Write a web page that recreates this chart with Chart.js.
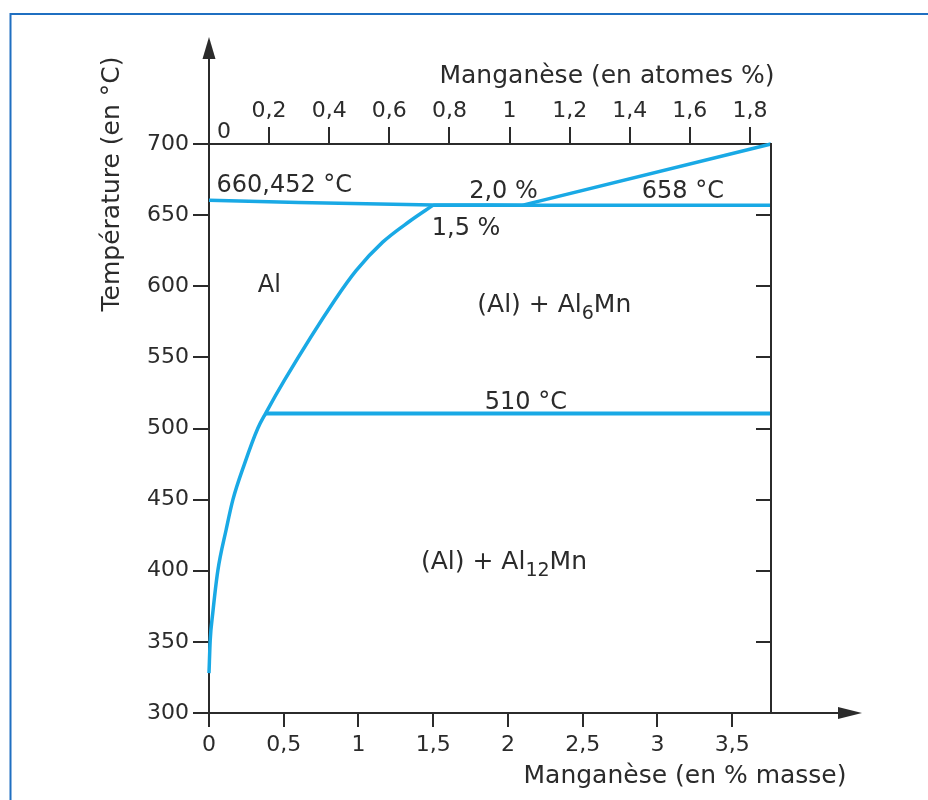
<!DOCTYPE html>
<html>
<head>
<meta charset="utf-8">
<script src="https://cdn.jsdelivr.net/npm/chart.js@4.4.1/dist/chart.umd.min.js"></script>
<style>
  html, body { margin: 0; padding: 0; background: #fff; }
  #wrap { width: 928px; height: 800px; }
</style>
</head>
<body>
<div id="wrap"><canvas id="chart" width="928" height="800"></canvas></div>
<script>
// diagramme Al-Mn, valeurs
const ticksMasse = [0, 0.5, 1, 1.5, 2, 2.5, 3, 3.5];
const ticksAtomes = [0, 0.2, 0.4, 0.6, 0.8, 1, 1.2, 1.4, 1.6, 1.8];
const ticksTemp = [300, 350, 400, 450, 500, 550, 600, 650, 700];

const liquidusMasse = [0, 0.6, 1.5, 2.1];
const liquidusTemp = [660.452, 658.8, 657.2, 657];
const liquidusMnMasse = [2.1, 3.76];
const liquidusMnTemp = [657, 700];
const palierMasse = [1.5, 3.76];
const palierTemp = [657, 657];
const solvusMasse = [0, 0.008, 0.025, 0.059, 0.115, 0.16, 0.237, 0.326, 0.378, 0.505, 0.84, 0.984, 1.162, 1.34, 1.5];
const solvusTemp = [328, 351, 370, 400, 429, 450, 475, 500, 510.5, 534, 590, 611, 631, 645.5, 657];
const eutectoideMasse = [0.378, 3.76];
const eutectoideTemp = [510.5, 510.5];

const FONT = "'DejaVu Sans', sans-serif";
const GRIS = '#2b2b2b';
const BLEU = '#19a9e5';

function fmt(v) {
    return (Math.round(v * 100) / 100).toString().replace('.', ',');
}

function serie(xs, ys, width, mono) {
    return {
        data: xs.map((x, i) => ({ x: x, y: ys[i] })),
        showLine: true,
        borderColor: BLEU,
        borderWidth: width,
        pointRadius: 0,
        tension: 0,
        cubicInterpolationMode: mono ? 'monotone' : 'default',
        clip: false
    };
}

// texte avec indice (Al6Mn, Al12Mn)
function texteIndice(ctx, parts, x, y) {
    let cx = x;
    parts.forEach(p => {
        ctx.font = (p.sub ? '19px ' : '25px ') + FONT;
        ctx.fillText(p.t, cx, p.sub ? y + 7 : y);
        cx += ctx.measureText(p.t).width;
    });
}

const decor = {
    id: 'decor',
    beforeDraw(chart) {
        const ctx = chart.ctx;
        ctx.save();
        ctx.fillStyle = '#fff';
        ctx.fillRect(0, 0, chart.width, chart.height);
        // cadre bleu
        ctx.strokeStyle = '#1f6fc1';
        ctx.lineWidth = 2;
        ctx.beginPath();
        ctx.moveTo(10.5, 800);
        ctx.lineTo(10.5, 14);
        ctx.lineTo(928, 14);
        ctx.stroke();
        ctx.restore();
    },
    afterDraw(chart) {
        const ctx = chart.ctx;
        const a = chart.chartArea;
        const xs = chart.scales.x, ys = chart.scales.y, xa = chart.scales.xAtomes;
        ctx.save();
        ctx.strokeStyle = GRIS;
        ctx.fillStyle = GRIS;
        ctx.lineWidth = 2;

        // axe vertical prolongé + flèche
        ctx.beginPath();
        ctx.moveTo(a.left, a.top);
        ctx.lineTo(a.left, 58);
        ctx.stroke();
        ctx.beginPath();
        ctx.moveTo(a.left - 6.5, 59);
        ctx.lineTo(a.left, 37);
        ctx.lineTo(a.left + 6.5, 59);
        ctx.closePath();
        ctx.fill();

        // axe horizontal prolongé + flèche
        ctx.beginPath();
        ctx.moveTo(a.right, a.bottom);
        ctx.lineTo(839, a.bottom);
        ctx.stroke();
        ctx.beginPath();
        ctx.moveTo(838, a.bottom - 6);
        ctx.lineTo(862, a.bottom);
        ctx.lineTo(838, a.bottom + 6);
        ctx.closePath();
        ctx.fill();

        // bord droit et graduations intérieures
        ctx.beginPath();
        ctx.moveTo(a.right, a.top - 1);
        ctx.lineTo(a.right, a.bottom);
        ticksTemp.forEach(t => {
            if (t === 300 || t === 700) return;
            const py = Math.round(ys.getPixelForValue(t));
            ctx.moveTo(a.right, py);
            ctx.lineTo(a.right - 15, py);
        });
        ctx.stroke();

        // titres des axes
        ctx.font = '25px ' + FONT;
        ctx.textBaseline = 'alphabetic';
        ctx.textAlign = 'center';
        ctx.fillText('Manganèse (en atomes %)', 607, 83);
        ctx.fillText('Manganèse (en % masse)', 685, 783);
        ctx.save();
        ctx.translate(119, 184);
        ctx.rotate(-Math.PI / 2);
        ctx.fillText('Température (en °C)', 0, 0);
        ctx.restore();

        // "0" de l'axe des atomes
        ctx.textAlign = 'left';
        ctx.font = '22px ' + FONT;
        ctx.fillText('0', xa.getPixelForValue(0) + 8, 138);

        // étiquettes du diagramme
        ctx.font = '24px ' + FONT;
        const px = v => xs.getPixelForValue(v);
        const py = v => ys.getPixelForValue(v);
        ctx.textAlign = 'left';
        ctx.fillText('660,452 °C', px(0.05), py(666.3));
        ctx.textAlign = 'center';
        ctx.fillText('2,0 %', px(1.97), py(662.2));
        ctx.fillText('658 °C', px(3.17), py(662.2));
        ctx.fillText('1,5 %', px(1.72), py(636));
        ctx.fillText('Al', px(0.404), py(596));
        ctx.fillText('510 °C', px(2.12), py(513.7));
        ctx.textAlign = 'left';
        texteIndice(ctx, [{ t: '(Al) + Al' }, { t: '6', sub: true }, { t: 'Mn' }], px(1.795), py(581.9));
        texteIndice(ctx, [{ t: '(Al) + Al' }, { t: '12', sub: true }, { t: 'Mn' }], px(1.418), py(401));
        ctx.restore();
    }
};

function axeStyle(tickLen, pad) {
    return {
        grid: { drawOnChartArea: false, color: GRIS, lineWidth: 2, tickLength: tickLen },
        border: { color: GRIS, width: 2 },
        ticks: { color: GRIS, font: { family: FONT, size: 22 }, padding: pad, maxRotation: 0, autoSkip: false }
    };
}

const axeX = axeStyle(14, 5);
const axeXA = axeStyle(17, 3);
const axeY = axeStyle(16, 4);

new Chart(document.getElementById('chart'), {
    type: 'scatter',
    data: {
        datasets: [
            serie(liquidusMasse, liquidusTemp, 3.5, true),
            serie(palierMasse, palierTemp, 3.5),
            serie(liquidusMnMasse, liquidusMnTemp, 3.5),
            serie(solvusMasse, solvusTemp, 3.5, true),
            serie(eutectoideMasse, eutectoideTemp, 4)
        ]
    },
    options: {
        responsive: false,
        animation: false,
        layout: { padding: { left: 0, right: 157, top: 0, bottom: 0 } },
        plugins: { legend: { display: false }, tooltip: { enabled: false } },
        scales: {
            x: {
                type: 'linear', position: 'bottom', min: 0, max: 3.76,
                afterFit(s) { s.height = 87; },
                afterBuildTicks(s) { s.ticks = ticksMasse.map(v => ({ value: v })); },
                grid: axeX.grid, border: axeX.border,
                ticks: Object.assign({}, axeX.ticks, { callback: v => fmt(v) })
            },
            xAtomes: {
                type: 'linear', position: 'top', min: 0, max: 1.87,
                afterFit(s) { s.height = 144; },
                afterBuildTicks(s) { s.ticks = ticksAtomes.map(v => ({ value: v })); },
                grid: axeXA.grid, border: axeXA.border,
                ticks: Object.assign({}, axeXA.ticks, { callback: v => v === 0 ? '' : fmt(v) })
            },
            y: {
                type: 'linear', position: 'left', min: 300, max: 700,
                afterFit(s) { s.width = 209; },
                afterBuildTicks(s) { s.ticks = ticksTemp.map(v => ({ value: v })); },
                grid: axeY.grid, border: axeY.border,
                ticks: Object.assign({}, axeY.ticks, { callback: v => String(v) })
            }
        }
    },
    plugins: [decor]
});
</script>
</body>
</html>
